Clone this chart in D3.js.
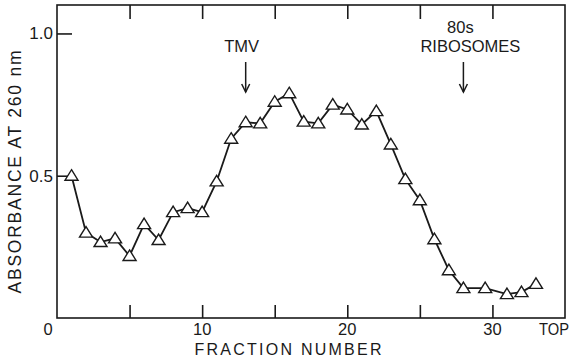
<!DOCTYPE html>
<html><head><meta charset="utf-8">
<script src="https://cdn.jsdelivr.net/npm/d3@7"></script>
<style>
html,body{margin:0;padding:0;background:#fff;}
svg{display:block;}
text{font-family:"Liberation Sans",Arial,sans-serif;fill:#1a1a1a;}
</style></head><body>
<svg id="c" width="572" height="361"></svg>
<script>
const fractions = [1,2,3,4,5,6,7,8,9,10,11,12,13,14,15,16,17,18,19,20,21,22,23,24,25,26,27,28,29.5,31,32,33];
const absorbance = [0.50,0.30,0.267,0.28,0.218,0.33,0.274,0.372,0.386,0.372,0.48,0.63,0.688,0.684,0.76,0.79,0.69,0.684,0.75,0.733,0.68,0.727,0.61,0.488,0.414,0.277,0.168,0.105,0.105,0.084,0.091,0.12];
const xTicks = [5,10,15,20,25,30];
const xTickLabels = [{v:0,t:"0"},{v:10,t:"10"},{v:20,t:"20"},{v:30,t:"30"}];
const yTicks = [0.5,1.0];
const yTickLabels = ["0.5","1.0"];
const annotations = [
  {x:13, lines:["TMV"]},
  {x:28, lines:["80s","RIBOSOMES"]}
];

const svg = d3.select("#c");
const ink = "#1a1a1a";
const L=57, R=565, T=5, B=318;
const x = d3.scaleLinear().domain([0,35]).range([L,R]);
const y = d3.scaleLinear().domain([0,1.1]).range([B,T]);

// frame
svg.append("rect").attr("x",L).attr("y",T).attr("width",R-L).attr("height",B-T)
  .attr("fill","none").attr("stroke",ink).attr("stroke-width",1.6);

// inward ticks via axes
const gb = svg.append("g").attr("transform",`translate(0,${B})`)
  .call(d3.axisTop(x).tickValues(xTicks).tickSize(13).tickFormat(""));
const gt = svg.append("g").attr("transform",`translate(0,${T})`)
  .call(d3.axisBottom(x).tickValues(xTicks).tickSize(14).tickFormat(""));
const gl = svg.append("g").attr("transform",`translate(${L},0)`)
  .call(d3.axisRight(y).tickValues(yTicks).tickSize(15).tickFormat(""));
[gb,gt,gl].forEach(g=>{
  g.select(".domain").remove();
  g.selectAll("line").attr("stroke",ink).attr("stroke-width",1.6);
});

// tick labels
svg.selectAll(".xl").data(xTickLabels).enter().append("text")
  .attr("x",d=>d.v===0 ? x(d.v)-9 : x(d.v)).attr("y",335)
  .attr("text-anchor","middle").attr("font-size",16.5).text(d=>d.t);
svg.append("text").attr("x",539).attr("y",335).attr("font-size",16.5)
  .attr("textLength",30).attr("lengthAdjust","spacingAndGlyphs").text("TOP");
svg.selectAll(".yl").data(yTicks).enter().append("text")
  .attr("x",L-4).attr("y",d=>y(d)+6).attr("text-anchor","end")
  .attr("font-size",17).text((d,i)=>yTickLabels[i]);

// axis titles
svg.append("text").attr("x",288).attr("y",355).attr("text-anchor","middle")
  .attr("font-size",16).attr("textLength",187).attr("lengthAdjust","spacing")
  .text("FRACTION NUMBER");
svg.append("text").attr("transform","translate(21,172) rotate(-90)")
  .attr("text-anchor","middle").attr("font-size",17.5)
  .attr("textLength",243).attr("lengthAdjust","spacing")
  .text("ABSORBANCE AT 260 nm");

// annotations
annotations.forEach(a=>{
  const cx = x(a.x);
  const n = a.lines.length;
  a.lines.forEach((ln,i)=>{
    svg.append("text").attr("x",cx+(n>1?(i===0?-3:7):-4)).attr("y",52-(n-1-i)*19)
      .attr("text-anchor","middle").attr("font-size",16.5).text(ln);
  });
  svg.append("line").attr("x1",cx).attr("x2",cx).attr("y1",62).attr("y2",92)
    .attr("stroke",ink).attr("stroke-width",1.5);
  svg.append("path").attr("d",`M${cx-4},${84}L${cx},${92}L${cx+4},${84}`)
    .attr("fill","none").attr("stroke",ink).attr("stroke-width",1.5);
});

// data line
const pts = fractions.map((f,i)=>({f, v:absorbance[i]}));
svg.append("path").datum(pts)
  .attr("d",d3.line().x(d=>x(d.f)).y(d=>y(d.v)))
  .attr("fill","none").attr("stroke",ink).attr("stroke-width",1.8);

// triangle markers
const tri = "M0,-6L6.5,4.5L-6.5,4.5Z";
svg.selectAll(".m").data(pts).enter().append("path")
  .attr("d",tri).attr("transform",d=>`translate(${x(d.f)},${y(d.v)})`)
  .attr("fill","#fff").attr("stroke",ink).attr("stroke-width",1.4);
</script>
</body></html>
